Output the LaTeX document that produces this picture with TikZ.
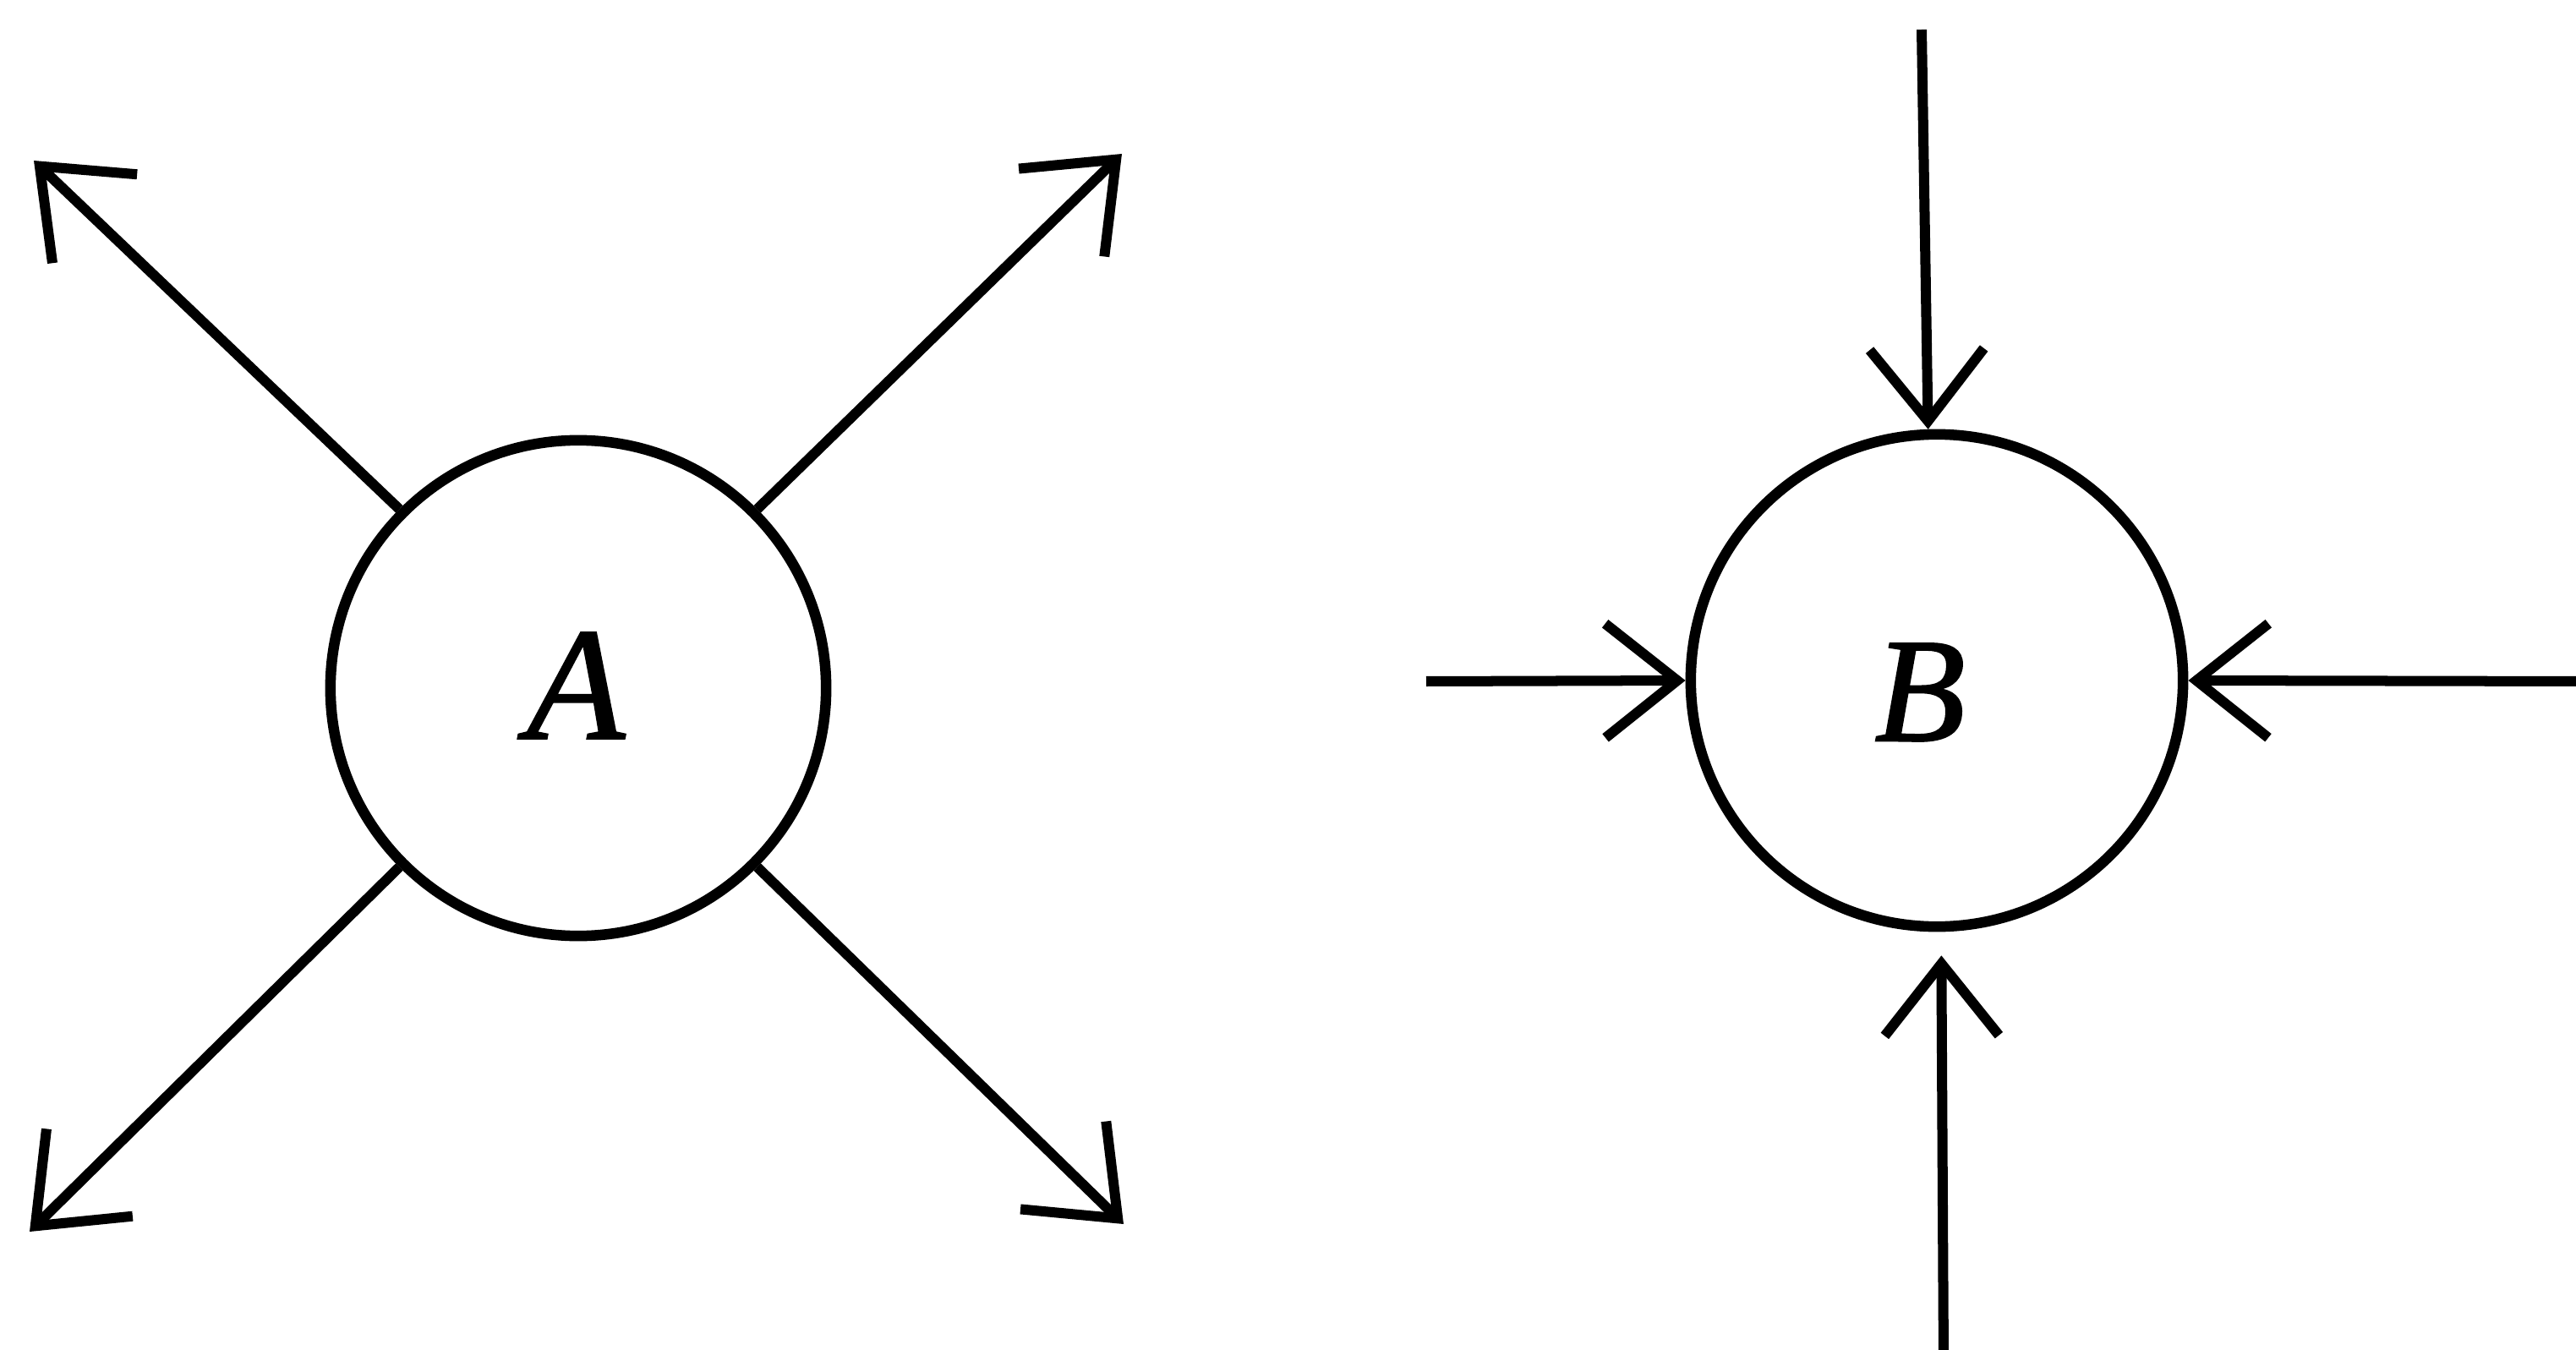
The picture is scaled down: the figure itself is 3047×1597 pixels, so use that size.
\documentclass[tikz,border=0pt]{standalone}
\usepackage{fontspec}
\setmainfont{Liberation Serif}
\newfontfamily\lblfont[FakeBold=1.2]{Liberation Serif}
\usetikzlibrary{arrows.meta}
\begin{document}
\begin{tikzpicture}[x=0.01cm,y=-0.01cm,
  ring/.style={circle,draw,line width=0.125cm,inner sep=0pt},
  outarrow/.style={line width=0.12cm,-{Straight Barb[length=0.9cm,width=1.45cm]}},
  inarrow/.style={line width=0.12cm,-{Straight Barb[length=0.85cm,width=1.35cm]}},
  lbl/.style={font=\lblfont\fontsize{54}{60}\selectfont\itshape,inner sep=0pt}]
\useasboundingbox (0,0) rectangle (3047,1597);
% circle A with outgoing arrows
\node[ring,minimum size=5.86cm] (A) at (684,814) {};
\node[lbl] (tA) at (681,811) {A};
\coordinate (aNW) at (40,190);
\coordinate (aNE) at (1327,182);
\coordinate (aSW) at (35,1457);
\coordinate (aSE) at (1329,1448);
\draw[outarrow] (A.135) -- (aNW);
\draw[outarrow] (A.45) -- (aNE);
\draw[outarrow] (A.225) -- (aSW);
\draw[outarrow] (A.-45) -- (aSE);
% circle B with incoming arrows
\node[ring,minimum size=5.82cm] (B) at (2291,805) {};
\node[lbl,font=\lblfont\fontsize{50}{56}\selectfont\itshape] (tB) at (2271,819) {B};
\coordinate (bN) at (2273,35);
\coordinate (bS) at (2299,1610);
\coordinate (bW) at (1687,806);
\coordinate (bE) at (3060,806);
\draw[inarrow] (bN) -- (B.92);
\draw[inarrow,shorten >=0.28cm] (bS) -- (B.-89);
\draw[inarrow] (bW) -- (B.west);
\draw[inarrow] (bE) -- (B.east);
\end{tikzpicture}
\end{document}
